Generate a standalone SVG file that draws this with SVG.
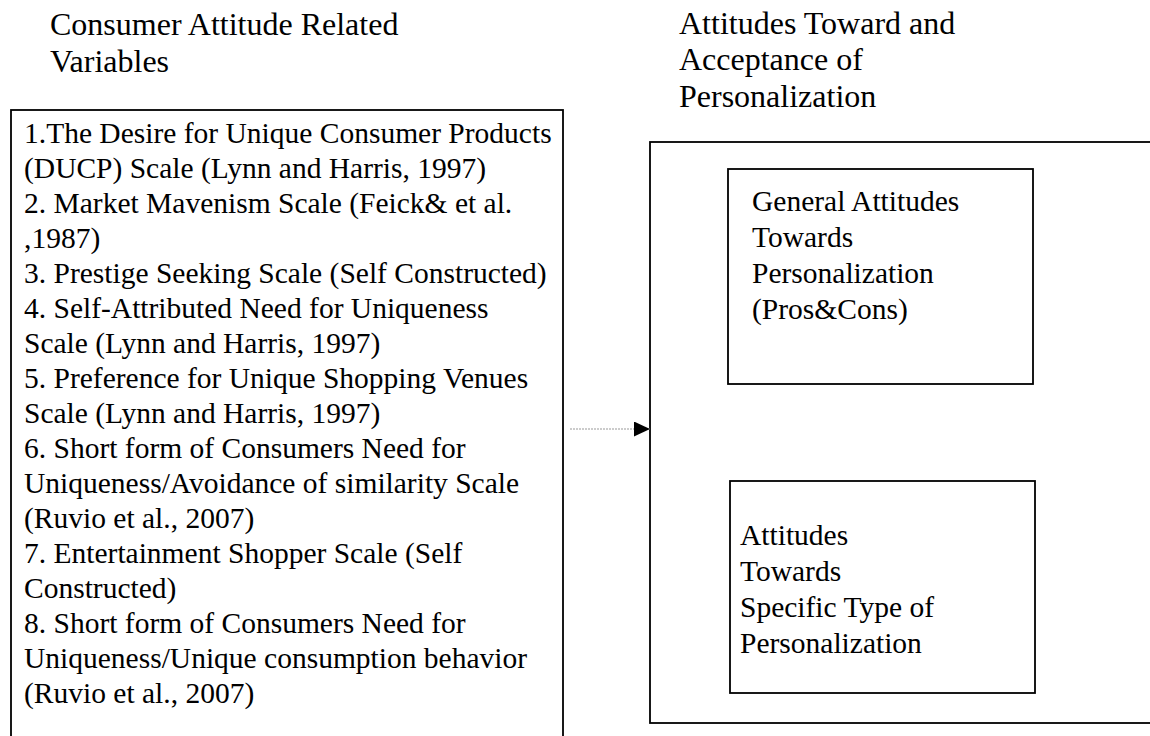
<svg xmlns="http://www.w3.org/2000/svg" width="1150" height="736" viewBox="0 0 1150 736">
<style>
text{font-family:"Liberation Serif","Times New Roman",serif;fill:#000}
.title{font-size:32px}
.body{font-size:29.5px}
.box{fill:none;stroke:#000;stroke-width:1.8}
.conn{stroke:#999;stroke-width:1;stroke-dasharray:2 1;fill:none}
</style>
<defs>
<marker id="arr" markerWidth="16" markerHeight="16" refX="16" refY="7.5" orient="auto" markerUnits="userSpaceOnUse">
<path d="M0,0 L16,7.5 L0,15 Z" fill="#000"/>
</marker>
</defs>
<rect width="1150" height="736" fill="#fff"/>
<g id="title-left">
<text class="title" x="50" y="35">Consumer Attitude Related</text>
<text class="title" x="50" y="72">Variables</text>
</g>
<g id="title-right">
<text class="title" x="679" y="34">Attitudes Toward and</text>
<text class="title" x="679" y="70">Acceptance of</text>
<text class="title" x="679" y="107">Personalization</text>
</g>
<g id="variables">
<rect class="box" x="11" y="110" width="552" height="700"/>
<text class="body" x="24" y="143">1.The Desire for Unique Consumer Products</text>
<text class="body" x="24" y="178">(DUCP) Scale (Lynn and Harris, 1997)</text>
<text class="body" x="24" y="213">2. Market Mavenism Scale (Feick&amp; et al.</text>
<text class="body" x="24" y="248">,1987)</text>
<text class="body" x="24" y="283">3. Prestige Seeking Scale (Self Constructed)</text>
<text class="body" x="24" y="318">4. Self-Attributed Need for Uniqueness</text>
<text class="body" x="24" y="353">Scale (Lynn and Harris, 1997)</text>
<text class="body" x="24" y="388">5. Preference for Unique Shopping Venues</text>
<text class="body" x="24" y="423">Scale (Lynn and Harris, 1997)</text>
<text class="body" x="24" y="458">6. Short form of Consumers Need for</text>
<text class="body" x="24" y="493">Uniqueness/Avoidance of similarity Scale</text>
<text class="body" x="24" y="528">(Ruvio et al., 2007)</text>
<text class="body" x="24" y="563">7. Entertainment Shopper Scale (Self</text>
<text class="body" x="24" y="598">Constructed)</text>
<text class="body" x="24" y="633">8. Short form of Consumers Need for</text>
<text class="body" x="24" y="668">Uniqueness/Unique consumption behavior</text>
<text class="body" x="24" y="703">(Ruvio et al., 2007)</text>
</g>
<g id="acceptance">
<rect class="box" x="650" y="142" width="600" height="581"/>
</g>
<g id="general-attitudes">
<rect class="box" x="728" y="169" width="305" height="215"/>
<text class="body" x="752" y="211">General Attitudes</text>
<text class="body" x="752" y="247">Towards</text>
<text class="body" x="752" y="283">Personalization</text>
<text class="body" x="752" y="319">(Pros&amp;Cons)</text>
</g>
<g id="specific-attitudes">
<rect class="box" x="730" y="481" width="305" height="212"/>
<text class="body" x="740" y="545">Attitudes</text>
<text class="body" x="740" y="581">Towards</text>
<text class="body" x="740" y="617">Specific Type of</text>
<text class="body" x="740" y="653">Personalization</text>
</g>
<g id="connectors">
<line class="conn" x1="570" y1="429" x2="650" y2="429" marker-end="url(#arr)"/>
</g>
</svg>
